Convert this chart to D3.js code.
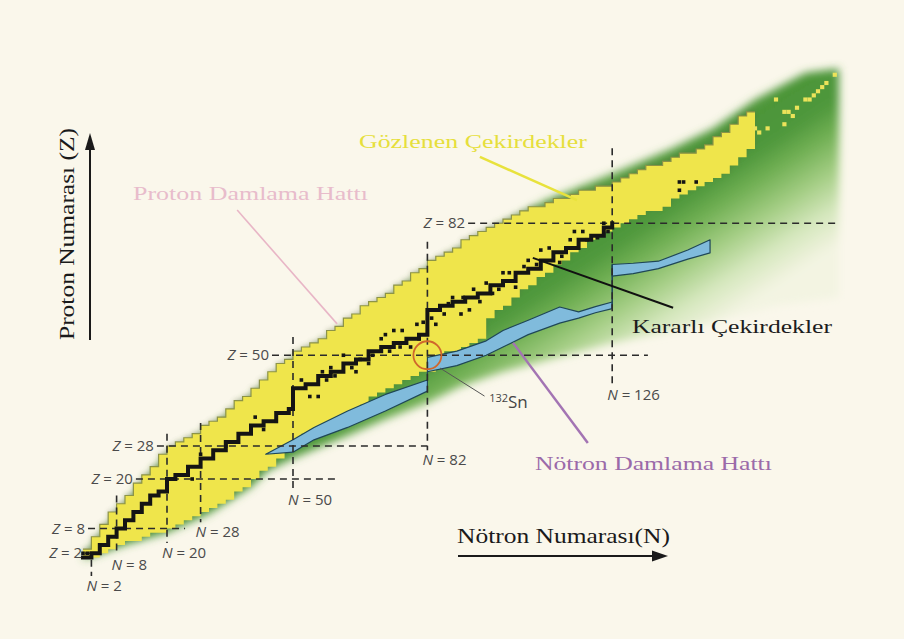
<!DOCTYPE html>
<html>
<head>
<meta charset="utf-8">
<script src="https://cdn.jsdelivr.net/npm/d3@7/dist/d3.min.js"></script>
<style>
  body { margin: 0; background: #faf7eb; }
  svg { display: block; }
</style>
</head>
<body>
<svg id="chart" width="904" height="639"></svg>
<script>
// observed nuclei band (yellow), read every 2 neutrons from N = 0 to 160
var obsN = d3.range(0, 161, 2);
var obsZhigh = [
  3,6,9,12,14,16,19,21,23,26,
  28,29,30,31,33,34,35,37,39,40,
  42,44,46,48,49,51,52,53,54,56,
  57,59,60,62,63,64,65,67,68,70,
  71,73,74,75,76,78,79,80,81,82,
  83,84,85,86,86,87,88,88,89,90,
  90,91,91,92,93,94,95,96,96,97,
  98,99,99,100,101,103,104,106,108,109,
  109];
var obsZlow = [
  1,1,2,3,4,5,5,6,7,7,
  8,9,10,11,12,13,14,15,17,18,
  20,22,23,25,27,29,31,32,33,34,
  35,36,37,38,40,41,42,43,44,45,
  46,46,50,51,51,52,53,54,59,61,
  62,64,66,67,69,70,72,73,75,76,
  78,79,80,81,82,83,84,85,85,86,
  88,89,90,91,92,93,94,96,98,100,
  101];

// predicted region (green): upper edge and where the green fades out
var pDripN = [0,10,20,30,40,50,60,70,82,95,110,126,140,150,160,172,180];
var pDripZ = [1,14,26,32,40,49,55,62,71,79,87.5,94,100,105,112,118.5,119.5];
var fadeN = [0,10,20,30,40,44,50,63,72,82,90,100,126,150,165,180];
var fadeZ = [0.5,4,7,11.5,18,22,25,30.5,34.5,38.5,42.5,46,53,58,62,64];

// neutron drip line band (blue)
var blue1N = [43.5,50,55,63,72,82,82,89,96,100,106,113.5,118,122,126];
var blue1Top = [26,29.5,32.5,36.5,40.5,44,49.5,51,53.5,56,58.5,61.7,60.5,61.8,62.9];
var blue1Bot = [26,26.5,29.5,32.5,36.5,41.3,46,47.5,50,52,55,57.8,59,60.3,61.3];
var blue2N = [126,131,137,144,149.3];
var blue2Top = [72,72.3,72.8,75.5,78];
var blue2Bot = [69.2,69.8,71,73.3,74.8];

// valley of stability (black staircase) and isolated stable isotopes
var stableN = [0,2,4,6,8,10,12,14,16,18,20,22,25,28,31,34,37,40,43,46,49,50,53,56,59,62,65,68,71,74,77,80,82,85,88,91,94,97,100,103,106,109,112,115,118,121,124,126];
var stableZ = [1,2,4,6,8,10,12,14,16,17,20,21,23,25,27,29,31,33,34,36,37,42,43,45,46,48,49,51,52,53,54,55,61,62,63,64,65,67,68,70,71,73,75,76,78,79,81,82];
var stableDots = [
  [0,2],[1,2],[26,20],[28,26],[34,28],[41,35],[43,32],[46,34],[48,36],
  [52,44],[54,40],[56,40],[57,46],[58,44],[59,47],[60,45],[62,50],[64,47],[65,46],
  [66,49],[68,48],[69,50],[71,54],[72,55],[73,51],[74,56],[76,56],[75.5,52],[78,52],
  [79.5,57.5],[80,54],[81,58],[83,59],[84,57.5],[86,60],[87,62.5],[88,64],[90,60],
  [90.5,64],[92,61],[93,66],[94.5,63],[96,67.5],[97.5,65],[99,66],[100,70],
  [101.5,70],[102,68],[103,66.5],[105,71.5],[106,73],[108,72],[109,75.5],[111,76],
  [113.5,72.5],[114,74],[116,78],[117,80],[119,80],[120,78],[122.5,78.5],[124,82],[125,80]
];
var longLived = [[142,92],[143,92],[146,92],[142,90]];
var heavyCells = [[160,105],[161,104],[163,105],[165,112],[167,106],[167,109],[168,109],[169,108],[170,110],[172,112],[173,112],[174,113],[175,114],[176,115],[177,116],[179,118]];

// magic numbers: Z lines run between N values, N lines between Z values
var magicZ = [2, 8, 20, 28, 50, 82];
var zLineFrom = [0.5, 1.2, 12.6, 17.6, 45, 91.7];
var zLineTo = [3, 24.3, 60, 82, 134.5, 179.8];
var magicN = [2, 8, 20, 28, 50, 82, 126];
var nLineTop = [0.4, 16, 31, 33.6, 54.4, 77.5, 100.2];
var nLineBottom = [-3.5, 1.5, 4.5, 9.5, 17.3, 27, 42.8];

// callouts (text anchor and leader ends in N, Z units)
var callouts = [
  {text: "Proton Damlama Hattı", color: "#e8bccb", line: "#e8b6c6", lw: 1.6, n: 11.9, z: 87.6, w: 235, from: [36.7, 85.2], to: [60.5, 57.6]},
  {text: "Gözlenen Çekirdekler", color: "#e6df3c", line: "#e8e23c", lw: 2.5, n: 65.7, z: 100.2, w: 228, from: [94.5, 98.1], to: [117.6, 87.6]},
  {text: "Kararlı Çekirdekler", color: "#1c1c1c", line: "#111111", lw: 2, n: 130.7, z: 55.4, w: 200, from: [107.1, 73.6], to: [140.5, 61.5]},
  {text: "Nötron Damlama Hattı", color: "#9b6aa9", line: "#a374b3", lw: 2.5, n: 107.6, z: 22.2, w: 237, from: [102.4, 53], to: [120.2, 28.7]}
];
var snN = 82, snZ = 50;

var width = 904, height = 639;
var serif = "'Liberation Serif', 'Times New Roman', serif";
var sans = "'Open Sans', 'DejaVu Sans', sans-serif";

var x = d3.scaleLinear().domain([0, 180]).range([83, 839]);
var y = d3.scaleLinear().domain([0, 120]).range([561.5, 66.5]);

var svg = d3.select("#chart");
var defs = svg.append("defs");

var grad = defs.append("linearGradient").attr("id", "greenFade")
  .attr("x1", 0).attr("y1", 0).attr("x2", 1).attr("y2", 1);
[[0.40, "#78b456"], [0.49, "#4c9539"], [0.53, "#4f983c"], [0.56, "#70af53"],
 [0.60, "#a3cd83"], [0.64, "#d5e7bd"], [0.68, "#f3f4e2"]].forEach(function(s){
  grad.append("stop").attr("offset", s[0]).attr("stop-color", s[1]);
});

defs.append("filter").attr("id", "soft")
  .attr("x", "-10%").attr("y", "-10%").attr("width", "120%").attr("height", "120%")
  .append("feGaussianBlur").attr("stdDeviation", 4.5);
defs.append("filter").attr("id", "shadow")
  .attr("x", "-10%").attr("y", "-10%").attr("width", "120%").attr("height", "120%")
  .append("feGaussianBlur").attr("stdDeviation", 2.5);

svg.append("rect").attr("width", width).attr("height", height).attr("fill", "#faf7eb");

//green predicted region
var greenPts = pDripN.map(function(n, i){ return [x(n), y(pDripZ[i])]; })
  .concat(fadeN.map(function(n, i){ return [x(n), y(fadeZ[i])]; }).reverse());
svg.append("path")
  .attr("d", d3.line().curve(d3.curveLinearClosed)(greenPts))
  .attr("fill", "url(#greenFade)")
  .attr("filter", "url(#soft)");

//observed nuclei
var obs = obsN.map(function(n, i){ return {n: n, lo: obsZlow[i], hi: obsZhigh[i]}; });
var obsArea = d3.area().curve(d3.curveStepAfter)
  .x(function(d){ return x(d.n); })
  .y0(function(d){ return y(d.lo); })
  .y1(function(d){ return y(d.hi); });

svg.append("path").attr("d", obsArea(obs))
  .attr("fill", "#5b5d40").attr("opacity", 0.3)
  .attr("transform", "translate(0,-1.5)")
  .attr("filter", "url(#shadow)");
svg.append("path").attr("d", obsArea(obs)).attr("fill", "#efe54b");
svg.append("path")
  .attr("d", d3.line().curve(d3.curveStepAfter)
    .x(function(d){ return x(d.n); })
    .y(function(d){ return y(d.hi); })(obs))
  .attr("fill", "none").attr("stroke", "#8d9446").attr("stroke-width", 1.2);

var cw = x(1) - x(0), ch = y(0) - y(1);
svg.append("g").selectAll("rect").data(heavyCells).join("rect")
  .attr("x", function(d){ return x(d[0]) - cw / 2; })
  .attr("y", function(d){ return y(d[1]) - ch / 2; })
  .attr("width", cw).attr("height", ch)
  .attr("fill", "#ece35a");

//neutron drip line
function blueBand(ns, tops, bots){
  var pts = ns.map(function(n, i){ return {n: n, t: tops[i], b: bots[i]}; });
  svg.append("path")
    .attr("d", d3.area()
      .x(function(d){ return x(d.n); })
      .y0(function(d){ return y(d.b); })
      .y1(function(d){ return y(d.t); })(pts))
    .attr("fill", "#80bbdc")
    .attr("stroke", "#1f4757").attr("stroke-width", 1.2)
    .attr("stroke-linejoin", "round");
}
blueBand(blue1N, blue1Top, blue1Bot);
blueBand(blue2N, blue2Top, blue2Bot);
svg.append("line")
  .attr("x1", x(126)).attr("x2", x(126))
  .attr("y1", y(blue1Bot[blue1Bot.length - 1])).attr("y2", y(blue2Top[0]))
  .attr("stroke", "#1f4757").attr("stroke-width", 1.6);

//magic number lines
var dash = svg.append("g")
  .attr("stroke", "#2b2b2b").attr("stroke-width", 1.6).attr("stroke-dasharray", "7,5");
magicZ.forEach(function(z, i){
  dash.append("line")
    .attr("x1", x(zLineFrom[i])).attr("x2", x(zLineTo[i]))
    .attr("y1", y(z)).attr("y2", y(z));
});
magicN.forEach(function(n, i){
  dash.append("line")
    .attr("x1", x(n)).attr("x2", x(n))
    .attr("y1", y(nLineTop[i])).attr("y2", y(nLineBottom[i]));
});

//stable nuclei
var stable = stableN.map(function(n, i){ return [n, stableZ[i]]; });
svg.append("path")
  .attr("d", d3.line().curve(d3.curveStepAfter)
    .x(function(d){ return x(d[0]); })
    .y(function(d){ return y(d[1]); })(stable))
  .attr("fill", "none").attr("stroke", "#141414").attr("stroke-width", 4)
  .attr("stroke-linecap", "square").attr("stroke-linejoin", "miter");
svg.append("g").selectAll("rect").data(stableDots.concat(longLived)).join("rect")
  .attr("x", function(d){ return x(d[0]) - 1.8; })
  .attr("y", function(d){ return y(d[1]) - 1.8; })
  .attr("width", 3.6).attr("height", 3.6)
  .attr("fill", "#141414");

//magic number labels
var labels = svg.append("g")
  .attr("font-family", sans).attr("font-size", 15).attr("fill", "#4a4a4a");
magicZ.forEach(function(z, i){
  var t = labels.append("text")
    .attr("x", x(zLineFrom[i]) - 3).attr("y", y(z) + 5)
    .attr("text-anchor", "end");
  t.append("tspan").attr("font-style", "italic").text("Z");
  t.append("tspan").text(" = " + z);
});
magicN.forEach(function(n, i){
  var t = labels.append("text")
    .attr("x", x(n) - 5).attr("y", y(nLineBottom[i]) + 15);
  t.append("tspan").attr("font-style", "italic").text("N");
  t.append("tspan").text(" = " + n);
});

//132Sn marker
svg.append("circle")
  .attr("cx", x(snN)).attr("cy", y(snZ)).attr("r", 14)
  .attr("fill", "none").attr("stroke", "#d0672c").attr("stroke-width", 1.8);
svg.append("line")
  .attr("x1", x(85)).attr("y1", y(46.9)).attr("x2", x(95.6)).attr("y2", y(40.1))
  .attr("stroke", "#555").attr("stroke-width", 1);
var sn = svg.append("text")
  .attr("x", x(96.7)).attr("y", y(37.1))
  .attr("font-family", sans).attr("fill", "#444");
sn.append("tspan").attr("font-size", 11).attr("dy", -6).text("132");
sn.append("tspan").attr("font-size", 17).attr("dy", 6).text("Sn");

//callouts
callouts.forEach(function(c){
  svg.append("line")
    .attr("x1", x(c.from[0])).attr("y1", y(c.from[1]))
    .attr("x2", x(c.to[0])).attr("y2", y(c.to[1]))
    .attr("stroke", c.line).attr("stroke-width", c.lw);
  svg.append("text")
    .attr("x", x(c.n)).attr("y", y(c.z))
    .attr("font-family", serif).attr("font-size", 19)
    .attr("fill", c.color)
    .attr("textLength", c.w).attr("lengthAdjust", "spacingAndGlyphs")
    .text(c.text);
});

//axis arrows and titles
svg.append("line").attr("x1", 90).attr("x2", 90).attr("y1", 340).attr("y2", 148)
  .attr("stroke", "#1a1a1a").attr("stroke-width", 2);
svg.append("path").attr("d", "M90,133L85,150L95,150Z").attr("fill", "#1a1a1a");
svg.append("text")
  .attr("transform", "translate(74,234) rotate(-90)")
  .attr("text-anchor", "middle")
  .attr("font-family", serif).attr("font-size", 20).attr("fill", "#1a1a1a")
  .attr("textLength", 212).attr("lengthAdjust", "spacingAndGlyphs")
  .text("Proton Numarası (Z)");

svg.append("line").attr("x1", 458).attr("x2", 655).attr("y1", 556).attr("y2", 556)
  .attr("stroke", "#1a1a1a").attr("stroke-width", 2.2);
svg.append("path").attr("d", "M668,556L652,550.5L652,561.5Z").attr("fill", "#1a1a1a");
svg.append("text")
  .attr("x", 457).attr("y", 543)
  .attr("font-family", serif).attr("font-size", 21).attr("fill", "#1a1a1a")
  .attr("textLength", 213).attr("lengthAdjust", "spacingAndGlyphs")
  .text("Nötron Numarası(N)");
</script>
</body>
</html>
